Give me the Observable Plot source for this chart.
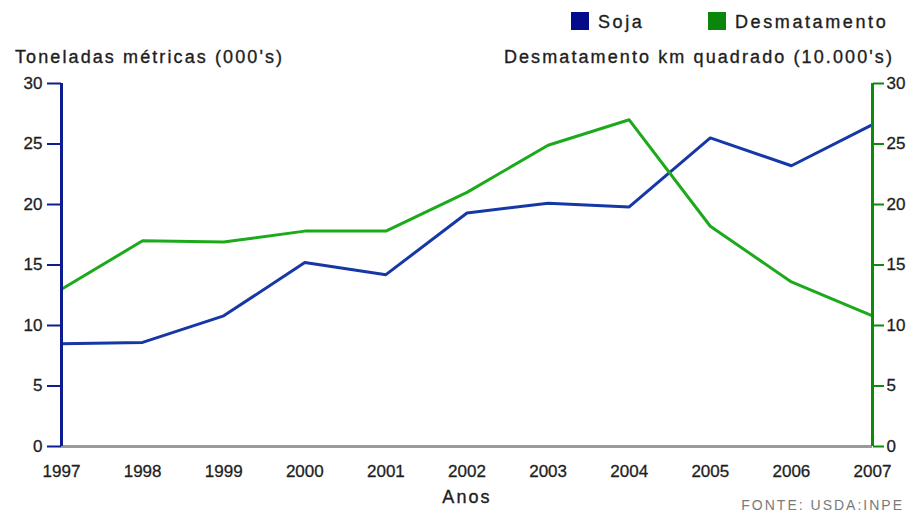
<!DOCTYPE html>
<html>
<head>
<meta charset="utf-8">
<script src="https://cdn.jsdelivr.net/npm/d3@7"></script>
<script src="https://cdn.jsdelivr.net/npm/@observablehq/plot@0.6"></script>
<style>
  body { margin: 0; background: #fff; }
  #wrap { position: relative; width: 909px; height: 525px; font-family: "Liberation Sans", Arial, sans-serif; color: #1e1e1e; overflow: hidden; }
  .t { position: absolute; font-size: 18px; line-height: 18px; letter-spacing: 2.1px; white-space: nowrap; -webkit-text-stroke: 0.35px #1e1e1e; }
  .lg { letter-spacing: 2.6px; }
  .sw { position: absolute; width: 18px; height: 18px; }
  #chart { position: absolute; left: 0; top: 70px; }
  #chart svg text { stroke: #1e1e1e; stroke-width: 0.3px; }
  #src { position: absolute; font-size: 14px; line-height: 14px; letter-spacing: 2px; color: #7a7a7a; right: 5px; top: 498px; white-space: nowrap; }
</style>
</head>
<body>
<div id="wrap">
  <div id="legend"></div>
  <div class="t" id="ttlL" style="left:15px;top:48px;"></div>
  <div class="t" id="ttlR" style="right:15px;top:48px;"></div>
  <div id="chart"></div>
  <div class="t" id="xlab" style="left:467px;top:488px;transform:translateX(-50%);"></div>
  <div id="src"></div>
</div>
<script>
const years = [1997, 1998, 1999, 2000, 2001, 2002, 2003, 2004, 2005, 2006, 2007];
const soja = [8.5, 8.6, 10.8, 15.2, 14.2, 19.3, 20.1, 19.8, 25.5, 23.2, 26.6];
const desmatamento = [13.0, 17.0, 16.9, 17.8, 17.8, 21.0, 24.9, 27.0, 18.2, 13.6, 10.8];
const yTicks = [0, 5, 10, 15, 20, 25, 30];
const seriesNames = ["Soja", "Desmatamento"];
const titleLeft = "Toneladas métricas (000's)";
const titleRight = "Desmatamento km quadrado (10.000's)";
const xTitle = "Anos";
const source = "FONTE: USDA:INPE";

const lineColors = ["#1638a6", "#1caa1c"];
const legendColors = ["#030b8a", "#0a870a"];
const axisLeftColor = "#0d1c8e";
const axisRightColor = "#0b8c0b";

const rows = [];
years.forEach((yr, i) => {
  rows.push({ year: yr, series: seriesNames[0], value: soja[i] });
  rows.push({ year: yr, series: seriesNames[1], value: desmatamento[i] });
});

// Legend and titles (HTML, above/below the SVG)
const legend = document.getElementById("legend");
const legendPos = [{ sq: 571, tx: 598 }, { sq: 708, tx: 735 }];
seriesNames.forEach((name, i) => {
  const sq = document.createElement("div");
  sq.className = "sw";
  sq.style.left = legendPos[i].sq + "px";
  sq.style.top = "12px";
  sq.style.background = legendColors[i];
  legend.appendChild(sq);
  const tx = document.createElement("div");
  tx.className = "t lg";
  tx.style.left = legendPos[i].tx + "px";
  tx.style.top = "13px";
  tx.textContent = name;
  legend.appendChild(tx);
});
document.getElementById("ttlL").textContent = titleLeft;
document.getElementById("ttlR").textContent = titleRight;
document.getElementById("xlab").textContent = xTitle;
document.getElementById("src").textContent = source;

const chart = Plot.plot({
  width: 909,
  height: 440,
  marginTop: 13,
  marginBottom: 64,
  marginLeft: 61,
  marginRight: 37,
  style: { fontFamily: "Liberation Sans, Arial, sans-serif", fontSize: "17px", color: "#1e1e1e", background: "transparent", overflow: "visible" },
  x: { domain: [years[0], years[years.length - 1]] },
  y: { domain: [0, 30] },
  marks: [
    Plot.ruleY([0], { stroke: "#9a9a9a", strokeWidth: 3 }),
    Plot.lineY(rows.filter(d => d.series === seriesNames[0]), { x: "year", y: "value", stroke: lineColors[0], strokeWidth: 3 }),
    Plot.lineY(rows.filter(d => d.series === seriesNames[1]), { x: "year", y: "value", stroke: lineColors[1], strokeWidth: 3 }),
    Plot.ruleX([years[0]], { y1: 0, y2: 30, stroke: axisLeftColor, strokeWidth: 3 }),
    Plot.ruleX([years[years.length - 1]], { y1: 0, y2: 30, stroke: axisRightColor, strokeWidth: 3 }),
    Plot.axisY({ ticks: yTicks, anchor: "left", tickSize: 14, tickPadding: 5, stroke: axisLeftColor, strokeWidth: 2, fill: "#1e1e1e", label: null }),
    Plot.axisY({ ticks: yTicks, anchor: "right", tickSize: 11, tickPadding: 3, stroke: axisRightColor, strokeWidth: 2, fill: "#1e1e1e", label: null }),
    Plot.axisX({ ticks: years, tickSize: 0, tickPadding: 18, tickFormat: d => String(d), fill: "#1e1e1e", label: null })
  ]
});
document.getElementById("chart").appendChild(chart);
</script>
</body>
</html>
